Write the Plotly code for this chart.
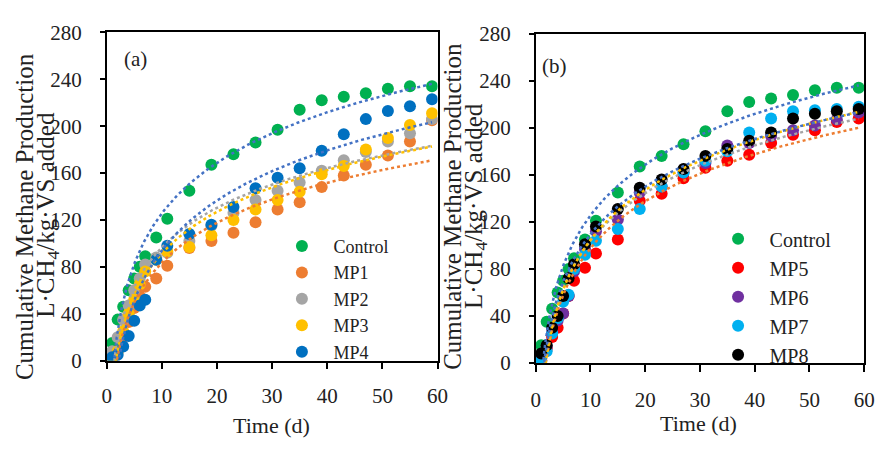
import numpy as np
import plotly.graph_objects as go

# ---------------- data ----------------
time_d = [1, 2, 3, 4, 5, 6, 7, 9, 11, 15, 19, 23, 27, 31, 35, 39, 43, 47, 51, 55, 59]

control = [15, 35, 46, 60, 70, 80, 89, 105, 121, 145, 167, 176, 186, 197, 214, 222, 225, 228, 232, 234, 234]
mp1 = [2, 8, 20, 33, 45, 55, 63, 70, 81, 96, 102, 109, 118, 129, 135, 148, 158, 167, 175, 187, 205]
mp2 = [8, 20, 35, 47, 60, 70, 82, 88, 92, 102, 115, 126, 137, 145, 152, 162, 171, 178, 187, 194, 206]
mp3 = [0, 8, 25, 40, 52, 65, 76, 86, 93, 97, 107, 120, 129, 137, 144, 159, 166, 180, 190, 201, 211]
mp4 = [3, 5, 12, 21, 34, 47, 52, 86, 98, 108, 116, 131, 147, 156, 164, 179, 193, 206, 213, 217, 223]

mp5 = [4, 12, 22, 30, 42, 57, 70, 81, 93, 105, 138, 144, 157, 166, 172, 177, 187, 194, 198, 205, 208]
mp6 = [6, 14, 26, 36, 42, 57, 78, 97, 112, 122, 145, 150, 162, 170, 185, 187, 193, 198, 202, 207, 213]
mp7 = [2, 10, 25, 38, 52, 58, 80, 92, 104, 114, 131, 150, 162, 172, 180, 196, 208, 214, 215, 216, 218]
mp8 = [8, 15, 30, 40, 57, 72, 84, 101, 116, 131, 149, 156, 165, 176, 182, 189, 196, 208, 212, 214, 216]

names_a = ["Control", "MP1", "MP2", "MP3", "MP4"]
names_b = ["Control", "MP5", "MP6", "MP7", "MP8"]
series_a = [control, mp1, mp2, mp3, mp4]
series_b = [control, mp5, mp6, mp7, mp8]

marker_a = ["#00B050", "#ED7D31", "#A5A5A5", "#FFC000", "#0070C0"]
marker_b = ["#00B050", "#FF0000", "#7030A0", "#00B0F0", "#000000"]
trend_colors = ["#4472C4", "#ED7D31", "#A5A5A5", "#FFC000", "#4472C4"]

y_ticks = [0, 40, 80, 120, 160, 200, 240, 280]
x_ticks = [0, 10, 20, 30, 40, 50, 60]

FONT = "Liberation Serif, Times New Roman, serif"
TXT = "#222222"

fig = go.Figure()

t = np.array(time_d, dtype=float)
t_fine = np.linspace(t.min(), t.max(), 300)


def add_panel(series, names, mcolors, xa, ya, legend):
    # markers
    for vals, name, col in zip(series, names, mcolors):
        fig.add_trace(go.Scatter(
            x=time_d, y=vals, mode="markers", name=name,
            marker=dict(color=col, size=12, line=dict(width=0)),
            xaxis=xa, yaxis=ya, legend=legend, showlegend=True))
    # logarithmic trendlines (least squares on ln t), drawn over markers
    for vals, col in zip(series, trend_colors):
        a, b = np.polyfit(np.log(t), np.array(vals, dtype=float), 1)
        fig.add_trace(go.Scatter(
            x=t_fine, y=a * np.log(t_fine) + b, mode="lines",
            line=dict(color=col, width=2.5, dash="dot"),
            xaxis=xa, yaxis=ya, showlegend=False, hoverinfo="skip"))


add_panel(series_a, names_a, marker_a, "x", "y", "legend")
add_panel(series_b, names_b, marker_b, "x2", "y2", "legend2")

axis_common = dict(
    showgrid=False, zeroline=False, showline=True, linecolor="#000000",
    linewidth=1.5, mirror=True, ticks="outside", tickcolor="#000000",
    tickwidth=1.5, tickfont=dict(family=FONT, size=21, color=TXT),
)

fig.update_layout(
    width=885, height=450,
    margin=dict(l=0, r=0, t=0, b=0),
    font=dict(family=FONT, color=TXT),
    paper_bgcolor="white", plot_bgcolor="white",
    xaxis=dict(domain=[103.5 / 885, 440.5 / 885], range=[0, 60], tickvals=x_ticks,
               ticklen=7, ticklabelstandoff=8, anchor="y", **axis_common),
    yaxis=dict(domain=[1 - 368.3 / 450, 1 - 21.5 / 450], range=[0, 280], tickvals=y_ticks,
               ticklen=5, ticklabelstandoff=14, anchor="x", **axis_common),
    xaxis2=dict(domain=[540.5 / 885, 875 / 885], range=[0, 60], tickvals=x_ticks,
                ticklen=7, ticklabelstandoff=10, anchor="y2", **axis_common),
    yaxis2=dict(domain=[1 - 370.7 / 450, 1 - 23 / 450], range=[0, 280], tickvals=y_ticks,
                ticklen=5, ticklabelstandoff=14, anchor="x2", **axis_common),
    legend=dict(x=270.3 / 885, y=1 - 228 / 450, xanchor="left", yanchor="top",
                bgcolor="rgba(0,0,0,0)", itemwidth=53,
                font=dict(family=FONT, size=18, color=TXT)),
    legend2=dict(x=714.5 / 885, y=1 - 219 / 450, xanchor="left", yanchor="top",
                 bgcolor="rgba(0,0,0,0)", itemwidth=53,
                 font=dict(family=FONT, size=20, color=TXT)),
)

ann_font = dict(family=FONT, size=25, color=TXT)
title1 = "Cumulative Methane Production"
title2 = "L·CH<sub>4</sub>/kg·VS added"
for (xc, yc, txt) in [(20, 216, title1), (43, 214, title2),
                      (455, 205, title1), (478.5, 205, title2)]:
    fig.add_annotation(x=xc / 885, y=1 - yc / 450, xref="paper", yref="paper",
                       text=txt, textangle=-90, showarrow=False,
                       xanchor="center", yanchor="middle", font=ann_font)

for (xc, yc) in [(271.7, 437), (706.7, 435)]:
    fig.add_annotation(x=xc / 885, y=1 - yc / 450, xref="paper", yref="paper",
                       text="Time (d)", showarrow=False, xanchor="center", yanchor="middle",
                       font=dict(family=FONT, size=22, color=TXT))

for (xc, yc, txt) in [(133, 50, "(a)"), (560, 57, "(b)")]:
    fig.add_annotation(x=xc / 885, y=1 - yc / 450, xref="paper", yref="paper",
                       text=txt, showarrow=False, xanchor="center", yanchor="middle",
                       font=dict(family=FONT, size=21, color=TXT))

fig.write_html("out.html")
